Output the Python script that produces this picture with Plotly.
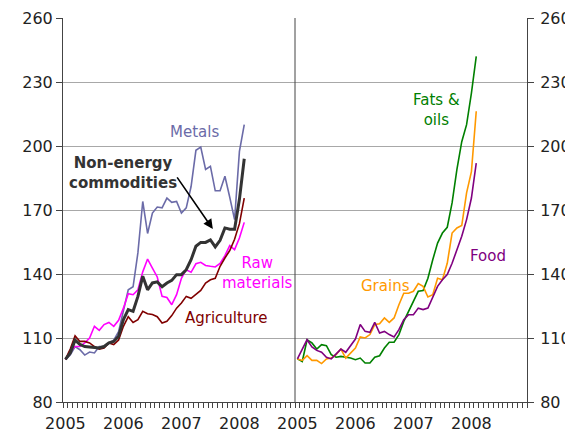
import plotly.graph_objects as go

# months since Jan 2005
months = list(range(38))
year_ticks = [0, 12, 24, 36]
year_labels = ['2005', '2006', '2007', '2008']

metals = [100, 102, 106, 104.5, 102, 103.4, 103, 106, 106, 107.7, 109, 113, 122.5, 132.6, 134, 150,
          174, 159, 168.6, 171.4, 171, 175.6, 173.6, 174, 168.6, 171, 181, 198, 199.5, 189, 190.5, 179,
          179, 185.8, 176, 165.5, 197.5, 210]
non_energy = [100, 103, 109, 107, 106, 105.8, 105.3, 105.3, 106, 107.7, 108.4, 110.8, 118.6, 123.3, 122.5,
              129.5, 139, 132.6, 135.8, 136.3, 134, 135.8, 137, 139.7, 139.7, 142, 146.7, 153, 154.8, 154.8,
              156, 152.7, 155.8, 161.6, 161, 161, 175, 194]
raw_materials = [100, 103.8, 106, 106, 107.7, 110, 115.5, 113.6, 116.3, 117.3, 115.5, 118.3, 124, 130.8, 130.3,
                 132.6, 141, 147, 142.8, 138.6, 129.5, 129, 125.6, 130.3, 138, 142, 140.8, 144.8, 145.5, 144,
                 143.6, 143.3, 145, 148.6, 153.3, 151.4, 156.9, 164.2]
agriculture = [100, 104.8, 111, 108.4, 108.4, 107.7, 106, 104.8, 105.3, 107.7, 106.9, 109, 115.5, 120, 117.3,
               118.6, 122.5, 121.4, 121, 120, 117, 117.8, 120.5, 124, 126.4, 129.5, 128.6, 130.3, 132.3, 135.8,
               137.3, 138, 143.6, 147.5, 151, 156.3, 163.6, 175.6]
fats_oils = [100.2, 99, 109.2, 107.7, 104.8, 106.9, 106.4, 102.2, 101, 101.4, 101, 100.6, 99.8, 100.6, 98.3,
             98.3, 101, 101.7, 105.3, 108, 108, 111.6, 117.8, 122.5, 127.2, 131.9, 132.3, 138, 146.7, 154.5,
             159.2, 161.9, 173.3, 189, 202, 210, 224.8, 242]
grains = [100.2, 99.5, 101.7, 99.5, 99.5, 98, 100.2, 100.6, 102.2, 104.8, 100.6, 103, 105.3, 110.5, 110,
          111.6, 116.3, 116.7, 119.4, 117.3, 119.4, 125.6, 131, 131, 131.9, 135.5, 134.2, 129.2, 130.3, 138,
          137.3, 145, 159.2, 161.6, 162.7, 178, 188, 216.3]
food = [100.2, 104.5, 109.2, 105.8, 104.2, 103.3, 101, 100.2, 102.7, 104.8, 103.3, 106.4, 109.5, 116.3, 113.1,
        112.7, 117.3, 112.3, 113.1, 111.6, 110.5, 113.9, 118.6, 120.9, 120.9, 124, 123.3, 124, 129.5, 134.2,
        137.3, 139.7, 145, 151.4, 157.7, 165.5, 175.6, 192]

y_ticks = [80, 110, 140, 170, 200, 230, 260]

fig = go.Figure()

left = [
	(metals, '#6b6ba8', 1.6),
	(raw_materials, '#ff00ff', 1.6),
	(agriculture, '#800000', 1.6),
	(non_energy, '#333333', 3),
]
for values, colour, width in left:
	fig.add_trace(go.Scatter(x=months, y=values, mode='lines', xaxis='x', yaxis='y',
		line=dict(color=colour, width=width), showlegend=False))

right = [
	(fats_oils, '#008000', 1.6),
	(grains, '#ff9900', 1.6),
	(food, '#800080', 1.6),
]
for values, colour, width in right:
	fig.add_trace(go.Scatter(x=months, y=values, mode='lines', xaxis='x2', yaxis='y2',
		line=dict(color=colour, width=width), showlegend=False))

font = dict(family='DejaVu Sans, Verdana, sans-serif', size=16, color='#222222')

xaxis_common = dict(
	range=[-0.5, 47.5], tickvals=year_ticks, ticktext=year_labels, ticks='', showgrid=False,
	showline=True, linecolor='#444444', linewidth=1, zeroline=False, tickfont=font, automargin=False,
	ticklabelstandoff=7,
	minor=dict(ticks='outside', tick0=-0.5, dtick=1, ticklen=5, tickcolor='#444444', showgrid=False),
)
yaxis_common = dict(
	range=[80, 260], tickvals=y_ticks, showgrid=True, gridcolor='#a8a8a8', gridwidth=1,
	showline=True, linecolor='#444444', linewidth=1, ticks='outside', ticklen=6,
	tickcolor='#444444', zeroline=False, tickfont=font, automargin=False,
)

# the page puts the figure 8px in from the top left corner
fig.update_layout(
	width=565, height=426,
	margin=dict(l=55, r=46, t=10, b=32, autoexpand=False),
	plot_bgcolor='white', paper_bgcolor='white',
	xaxis=dict(domain=[0, 0.5], anchor='y', **xaxis_common),
	xaxis2=dict(domain=[0.5, 1], anchor='y2', **xaxis_common),
	yaxis=dict(anchor='x', side='left', **yaxis_common),
	yaxis2=dict(anchor='x2', side='right', matches='y', ticklabelstandoff=3, **yaxis_common),
)

# divider between the two panels
fig.add_shape(type='line', xref='paper', yref='paper', x0=0.5, x1=0.5, y0=0, y1=1,
	line=dict(color='#444444', width=1))

ann_font = dict(family='DejaVu Sans, Verdana, sans-serif', size=15)
labels = [
	('x', 'y', 26.8, 206.6, 'Metals', '#6b6ba8', False),
	('x', 'y', 12.0, 187.4, 'Non-energy<br>commodities', '#333333', True),
	('x', 'y', 39.8, 140.5, 'Raw<br>materials', '#ff00ff', False),
	('x', 'y', 33.3, 119.4, 'Agriculture', '#800000', False),
	('x2', 'y2', 28.7, 216.9, 'Fats &<br>oils', '#008000', False),
	('x2', 'y2', 18.3, 134.4, 'Grains', '#ff9900', False),
	('x2', 'y2', 39.4, 148.4, 'Food', '#800080', False),
]
for xr, yr, x, y, text, colour, bold in labels:
	fig.add_annotation(xref=xr, yref=yr, x=x, y=y, text=f'<b>{text}</b>' if bold else text,
		showarrow=False, font=dict(color=colour, **ann_font))

fig.add_annotation(xref='x', yref='y', x=30.5, y=161.1, ax=22.9, ay=186, axref='x', ayref='y',
	text='', showarrow=True, arrowhead=2, arrowsize=1.2, arrowwidth=1.6, arrowcolor='#000000')

fig.write_html('out.html')
